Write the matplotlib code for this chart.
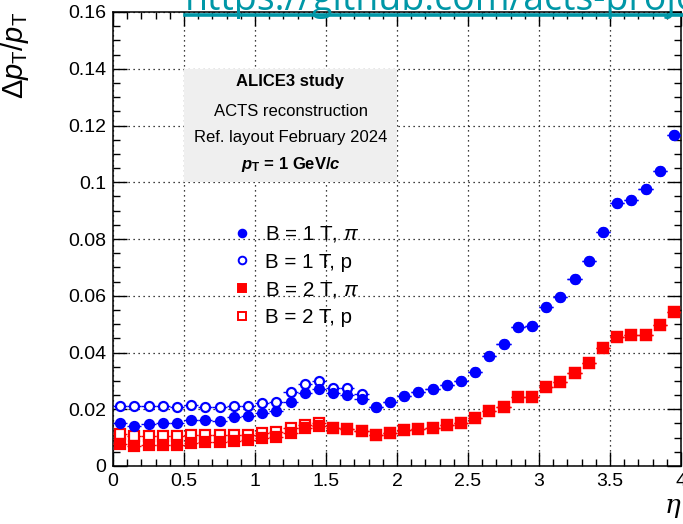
import numpy as np
import matplotlib
matplotlib.use('Agg')
import matplotlib.pyplot as plt
import matplotlib.ticker as ticker
from matplotlib.lines import Line2D
from matplotlib.patches import Rectangle

# eta bin centres (bin width 0.1)
eta = np.arange(0.05, 4.0, 0.1)

# relative pT resolution
b1_pi = [0.0150, 0.0142, 0.0148, 0.0153, 0.0153, 0.0161, 0.0162, 0.0160, 0.0172, 0.0177,
         0.0186, 0.0195, 0.0227, 0.0256, 0.0271, 0.0256, 0.0250, 0.0236, 0.0209, 0.0224,
         0.0247, 0.0260, 0.0271, 0.0285, 0.0301, 0.0332, 0.0389, 0.0429, 0.0491, 0.0493,
         0.0562, 0.0595, 0.0660, 0.0723, 0.0825, 0.0928, 0.0939, 0.0975, 0.1040, 0.1168]
b1_p = [0.0213, 0.0212, 0.0211, 0.0212, 0.0209, 0.0214, 0.0209, 0.0207, 0.0212, 0.0213,
        0.0223, 0.0227, 0.0260, 0.0289, 0.0301, 0.0274, 0.0274, 0.0253, 0.0209, 0.0224,
        0.0247, 0.0260, 0.0271, 0.0285, 0.0301, 0.0332, 0.0389, 0.0429, 0.0491, 0.0493,
        0.0562, 0.0595, 0.0660, 0.0723, 0.0825, 0.0928, 0.0939, 0.0975, 0.1040, 0.1168]
b2_pi = [0.0078, 0.0070, 0.0073, 0.0075, 0.0075, 0.0082, 0.0083, 0.0085, 0.0089, 0.0092,
         0.0098, 0.0103, 0.0117, 0.0133, 0.0142, 0.0133, 0.0129, 0.0123, 0.0109, 0.0115,
         0.0127, 0.0130, 0.0135, 0.0145, 0.0153, 0.0168, 0.0195, 0.0209, 0.0244, 0.0244,
         0.0277, 0.0295, 0.0329, 0.0364, 0.0415, 0.0454, 0.0463, 0.0463, 0.0497, 0.0543]
b2_p = [0.0113, 0.0106, 0.0106, 0.0107, 0.0107, 0.0110, 0.0109, 0.0109, 0.0111, 0.0110,
        0.0117, 0.0121, 0.0133, 0.0145, 0.0153, 0.0133, 0.0129, 0.0123, 0.0109, 0.0115,
        0.0127, 0.0130, 0.0135, 0.0145, 0.0153, 0.0168, 0.0195, 0.0209, 0.0244, 0.0244,
        0.0277, 0.0295, 0.0329, 0.0364, 0.0415, 0.0454, 0.0463, 0.0463, 0.0497, 0.0543]

labels = ['B = 1 T, $\\pi$', 'B = 1 T, p', 'B = 2 T, $\\pi$', 'B = 2 T, p']
info_lines = ['ALICE3 study', 'ACTS reconstruction', 'Ref. layout February 2024',
              '$\\mathbfit{p}_{\\mathbf{T}}$ = 1 GeV/$\\mathbfit{c}$']

plt.rcParams['font.family'] = ['Liberation Sans', 'DejaVu Sans']
plt.rcParams['mathtext.fontset'] = 'custom'
plt.rcParams['mathtext.rm'] = 'Liberation Sans'
plt.rcParams['mathtext.it'] = 'Liberation Sans:italic'
plt.rcParams['mathtext.bf'] = 'Liberation Sans:bold'
plt.rcParams['mathtext.bfit'] = 'Liberation Sans:italic:bold'

fig = plt.figure(figsize=(6.83, 5.24), dpi=100)
ax = fig.add_axes([113/683, 58/524, 568/683, 454/524])

blue = '#0000ff'
red = '#ff0000'
series = [
    (b1_pi, 'o', blue, blue),
    (b1_p, 'o', blue, 'white'),
    (b2_pi, 's', red, red),
    (b2_p, 's', red, 'white'),
]
# draw open markers first so the filled ones sit on top where they overlap
handles = [None] * 4
for i in [1, 3, 0, 2]:
    y, mk, col, fc = series[i]
    ax.errorbar(eta, y, xerr=0.05, yerr=0.0003, fmt=mk, color=col, mfc=fc,
                mec=col, mew=1.6, ms=6.5, elinewidth=1.0, capsize=0, zorder=4)
    handles[i] = Line2D([], [], ls='none', marker=mk, color=col, mfc=fc, mec=col,
                        mew=1.4, ms=5.5)

ax.set_xlim(0, 4)
ax.set_ylim(0, 0.16)
ax.xaxis.set_major_locator(ticker.MultipleLocator(0.5))
ax.xaxis.set_minor_locator(ticker.MultipleLocator(0.1))
ax.yaxis.set_major_locator(ticker.MultipleLocator(0.02))
ax.yaxis.set_minor_locator(ticker.MultipleLocator(0.005))
ax.xaxis.set_major_formatter(ticker.FormatStrFormatter('%g'))
ax.yaxis.set_major_formatter(ticker.FuncFormatter(lambda v, p: '%g' % round(v, 3)))
ax.tick_params(which='both', direction='in', top=True, right=True, labelsize=14, width=1)
ax.tick_params(which='major', length=10, pad=5)
ax.tick_params(which='minor', length=5)
for s in ax.spines.values():
    s.set_linewidth(1.1)
ax.grid(True, which='major', color='black', linestyle=(0, (1, 3)), linewidth=0.9)
ax.set_axisbelow(True)

# info box
ax.add_patch(Rectangle((0.125, 0.625), 0.375, 0.25, transform=ax.transAxes,
                       facecolor='#efefef', edgecolor='none', zorder=2))
ys = [0.848, 0.781, 0.723, 0.664]
for k, (t, yy) in enumerate(zip(info_lines, ys)):
    ax.text(0.3125, yy, t, transform=ax.transAxes, ha='center', va='center',
            fontsize=12, fontweight='bold' if k in (0, 3) else 'normal', zorder=3)

ax.legend(handles, labels, loc='upper left', bbox_to_anchor=(0.209, 0.532),
          frameon=False, fontsize=14.8, handlelength=1.0, handletextpad=0.6,
          labelspacing=0.40, borderpad=0, borderaxespad=0)

ax.set_ylabel('$\\Delta \\mathit{p}_{\\mathrm{T}}/\\mathit{p}_{\\mathrm{T}}$', fontsize=21)
ax.yaxis.set_label_coords(-0.145, 1.0)
ax.yaxis.label.set_ha('right')

fig.text(672/683, 1 - 506/524, '\u03b7', family='DejaVu Serif', style='italic',
         fontsize=19, ha='center', va='center')

# link overlay at the top
url_color = '#0097a7'
fig.text(185/683, 1 - 10/524, 'https://github.com/acts-project', family='Open Sans',
         fontsize=27, color=url_color, ha='left', va='baseline')
fig.add_artist(Line2D([185/683, 1.0], [1 - 14.5/524, 1 - 14.5/524], transform=fig.transFigure,
                      color=url_color, linewidth=2.6))

fig.savefig('out.png', dpi=100)
